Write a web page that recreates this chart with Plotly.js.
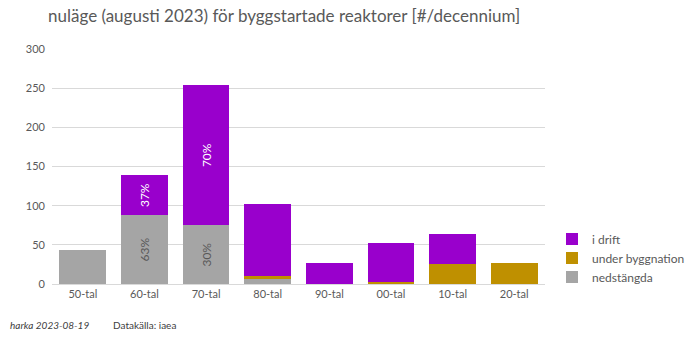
<!DOCTYPE html>
<html>
<head>
<meta charset="utf-8">
<script src="https://cdn.plot.ly/plotly-3.0.1.min.js"></script>
<style>
  html, body { margin: 0; padding: 0; background: #fff; }
  #chart { width: 700px; height: 337px; }
</style>
</head>
<body>
<div id="chart"></div>
<script>
// Reactors by construction-start decade, status as of August 2023
const decades = ['50-tal', '60-tal', '70-tal', '80-tal', '90-tal', '00-tal', '10-tal', '20-tal'];
const nedstangda = [43, 88, 75, 7, 0, 0, 0, 0];
const underByggnation = [0, 0, 0, 3, 0, 3, 26, 27];
const iDrift = [0, 51, 179, 92, 27, 49, 38, 0];
// decades that carry share-of-total labels
const labelledDecades = ['60-tal', '70-tal'];

const totals = decades.map((_, i) => nedstangda[i] + underByggnation[i] + iDrift[i]);
const shareText = (vals) => decades.map((d, i) =>
  labelledDecades.includes(d) && vals[i] > 0 ? Math.round(vals[i] / totals[i] * 100) + '%' : '');

const font = 'Lato, "Open Sans", "DejaVu Sans", sans-serif';

const traces = [
  {
    type: 'bar', name: 'nedstängda', x: decades, y: nedstangda,
    marker: { color: '#A5A5A5' },
    text: shareText(nedstangda), textposition: 'inside', textangle: -90,
    insidetextanchor: 'middle', constraintext: 'none',
    textfont: { color: '#595959', size: 12, family: font },
    hoverinfo: 'x+y+name'
  },
  {
    type: 'bar', name: 'under byggnation', x: decades, y: underByggnation,
    marker: { color: '#BF9000' },
    textposition: 'none', hoverinfo: 'x+y+name'
  },
  {
    type: 'bar', name: 'i drift', x: decades, y: iDrift,
    marker: { color: '#9900CC' },
    text: shareText(iDrift), textposition: 'inside', textangle: -90,
    insidetextanchor: 'middle', constraintext: 'none',
    textfont: { color: '#ffffff', size: 12, family: font },
    hoverinfo: 'x+y+name'
  }
];

const layout = {
  width: 700, height: 337,
  barmode: 'stack', bargap: 0.24,
  paper_bgcolor: '#fff', plot_bgcolor: '#fff',
  margin: { l: 52, r: 155, t: 49, b: 53, autoexpand: false },
  font: { family: font, color: '#595959', size: 11 },
  title: {
    text: 'nuläge (augusti 2023) för byggstartade reaktorer [#/decennium]',
    font: { family: font, size: 17, color: '#595959' },
    x: 48 / 700, xref: 'container', xanchor: 'left', y: 1 - 16 / 337, yanchor: 'middle'
  },
  xaxis: {
    type: 'category', showgrid: false, zeroline: false,
    showline: true, linecolor: '#d9d9d9', linewidth: 1,
    ticks: '', tickfont: { size: 11, color: '#595959', family: font }
  },
  yaxis: {
    range: [0, 300], dtick: 50, tick0: 0,
    showgrid: true, gridcolor: '#d9d9d9', gridwidth: 1,
    zeroline: false, showline: false, ticks: '',
    ticklabelstandoff: 6,
    tickfont: { size: 11, color: '#595959', family: font }
  },
  legend: {
    xref: 'container', yref: 'container',
    x: 552 / 700, xanchor: 'left', y: 1 - 258 / 337, yanchor: 'middle',
    traceorder: 'reversed', itemclick: false,
    font: { size: 12, color: '#595959', family: font },
    itemwidth: 30, tracegroupgap: 0
  },
  annotations: [
    { text: '<i>harka 2023-08-19</i>', xref: 'paper', yref: 'paper', x: -0.09, y: -0.175,
      xanchor: 'left', yanchor: 'middle', showarrow: false,
      font: { size: 10, color: '#404040', family: font } },
    { text: 'Datakälla: iaea', xref: 'paper', yref: 'paper', x: 0.12, y: -0.175,
      xanchor: 'left', yanchor: 'middle', showarrow: false,
      font: { size: 10, color: '#404040', family: font } }
  ],
  showlegend: true
};

Plotly.newPlot('chart', traces, layout, { displayModeBar: false, staticPlot: true });
</script>
</body>
</html>
